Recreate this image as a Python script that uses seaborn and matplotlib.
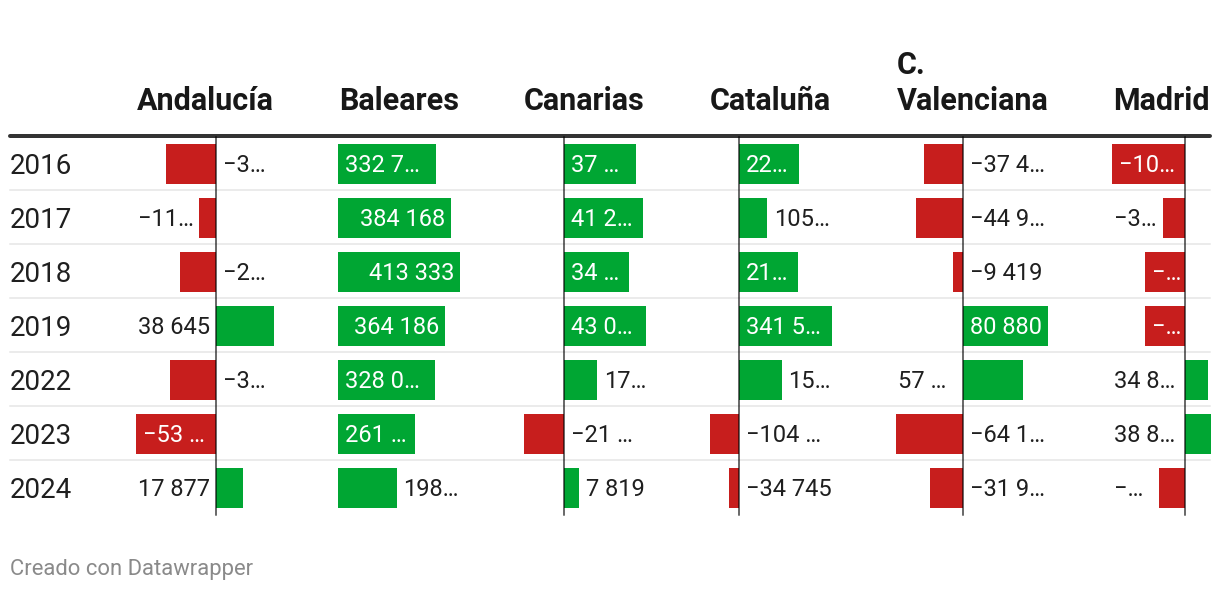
import textwrap
import numpy as np
import pandas as pd
import matplotlib
matplotlib.use("Agg")
import matplotlib.pyplot as plt
from matplotlib.lines import Line2D
import seaborn as sns

# ---------------- data ----------------
years = ["2016", "2017", "2018", "2019", "2022", "2023", "2024"]
regions = ["Andalucía", "Baleares", "Canarias", "Cataluña", "C. Valenciana", "Madrid"]

andalucia = [-33300, -11200, -23900, 38645, -30500, -53400, 17877]
baleares = [332700, 384168, 413333, 364186, 328050, 261300, 198400]
canarias = [37800, 41250, 34200, 43050, 17100, -21200, 7819]
cataluna = [220500, 105500, 218000, 341500, 157000, -104500, -34745]
valenciana = [-37450, -44950, -9419, 80880, 57500, -64150, -31950]
madrid = [-109000, -31800, -58800, -59200, 34850, 38850, -37900]

labels_andalucia = ["−3…", "−11…", "−2…", "38 645", "−3…", "−53 …", "17 877"]
labels_baleares = ["332 7…", "384 168", "413 333", "364 186", "328 0…", "261 …", "198…"]
labels_canarias = ["37 …", "41 2…", "34 …", "43 0…", "17…", "−21 …", "7 819"]
labels_cataluna = ["22…", "105…", "21…", "341 5…", "15…", "−104 …", "−34 745"]
labels_valenciana = ["−37 4…", "−44 9…", "−9 419", "80 880", "57 …", "−64 1…", "−31 9…"]
labels_madrid = ["−10…", "−3…", "−…", "−…", "34 8…", "38 8…", "−…"]

footer = "Creado con Datawrapper"

values = [andalucia, baleares, canarias, cataluna, valenciana, madrid]
labels = [labels_andalucia, labels_baleares, labels_canarias, labels_cataluna,
          labels_valenciana, labels_madrid]

# ---------------- layout / style ----------------
W, H = 1220, 590
RED, GREEN = "#c71e1d", "#00a633"
DARK = "#1f1f1f"
bar_px = [(136, 274), (338, 460), (524, 646), (710, 832), (896, 1048), (1112, 1210.6)]
col_x = [137, 339, 524, 710, 897, 1113]
placement = [
    ["opp", "end", "opp", "opp", "opp", "in", "opp"],
    ["in", "in", "in", "in", "in", "in", "end"],
    ["in", "in", "in", "in", "end", "opp", "end"],
    ["in", "end", "in", "in", "end", "opp", "opp"],
    ["opp", "opp", "opp", "in", "opp", "opp", "opp"],
    ["in", "end", "in", "in", "opp", "opp", "end"],
]
BODY_TOP, ROW_H = 137, 54
BODY_BOT = BODY_TOP + ROW_H * len(years)
FS_YEAR, FS_VAL, FS_HEAD, FS_FOOT = 20, 17, 22, 15.8

sns.set_style("white")
plt.rcParams["font.family"] = ["Roboto", "DejaVu Sans"]

fig = plt.figure(figsize=(W / 100, H / 100), dpi=100)
fig.patch.set_facecolor("white")


def fx(x):
    return x / W


def fy(y):
    return 1 - y / H


# header rule and row separators
fig.add_artist(Line2D([fx(10), fx(1210)], [fy(136), fy(136)], color="#333333",
                      lw=4 * 0.72, zorder=-1))
for k in range(1, len(years)):
    y = BODY_TOP + k * ROW_H - 1
    fig.add_artist(Line2D([fx(10), fx(1210)], [fy(y), fy(y)], color="#ebebeb",
                          lw=2 * 0.72, zorder=-1))

# year labels
for i, yr in enumerate(years):
    yc = BODY_TOP + ROW_H * (i + 0.5)
    cap = 0.711 * FS_YEAR / 0.72
    fig.text(fx(10), fy(yc + cap / 2), yr, fontsize=FS_YEAR, color=DARK,
             ha="left", va="baseline")

# headers
for name, x in zip(regions, col_x):
    lines = textwrap.wrap(name, 12)
    for j, line in enumerate(reversed(lines)):
        fig.text(fx(x), fy(110 - j * 36), line, fontsize=FS_HEAD, fontweight="bold",
                 color="#181818", ha="left", va="baseline")

# footer
fig.text(fx(10), fy(575), footer, fontsize=FS_FOOT, color="#8a8a8a", ha="left",
         va="baseline")

cap_off = -0.711 * FS_VAL / 2  # points, to centre digits vertically

for c, (name, vals, labs, (l, r), cx, plc) in enumerate(
        zip(regions, values, labels, bar_px, col_x, placement)):
    ax = fig.add_axes([fx(l), fy(BODY_BOT), (r - l) / W, (BODY_BOT - BODY_TOP) / H])
    df = pd.DataFrame({"year": years, "value": vals})
    df["sign"] = np.where(df["value"] >= 0, "pos", "neg")
    sns.barplot(data=df, x="value", y="year", hue="sign", order=years,
                palette={"pos": GREEN, "neg": RED}, orient="h", dodge=False,
                width=40 / 54, legend=False, saturation=1, linewidth=0, ax=ax)
    lo, hi = min(0, min(vals)), max(0, max(vals))
    ax.set_xlim(lo, hi)
    ax.set_ylim(len(years) - 0.5, -0.5)
    ax.axis("off")
    if lo < 0:
        ax.axvline(0, color="black", alpha=0.58, lw=2 * 0.72, zorder=5, clip_on=False)

    for i, (v, lab, mode) in enumerate(zip(vals, labs, plc)):
        trunc = "…" in lab
        kw = dict(fontsize=FS_VAL, va="baseline", annotation_clip=False)
        if mode == "in":
            if trunc:
                left = min(0, v)
                ax.annotate(lab, xy=(left, i), xytext=(7 * 0.72, cap_off),
                            textcoords="offset points", ha="left", color="white", **kw)
            else:
                right = max(0, v)
                ax.annotate(lab, xy=(right, i), xytext=(-6 * 0.72, cap_off),
                            textcoords="offset points", ha="right", color="white", **kw)
            continue
        # outside labels
        if mode == "end":
            anchor = v
            goes_right = v >= 0
        else:  # opposite side of the zero line
            anchor = 0
            goes_right = v < 0
        if goes_right:
            ax.annotate(lab, xy=(anchor, i), xytext=(7 * 0.72, cap_off),
                        textcoords="offset points", ha="left", color=DARK, **kw)
        elif trunc:
            ax.annotate(lab, xy=(cx + 1, i), xycoords=("figure pixels", "data"),
                        xytext=(0, cap_off), textcoords="offset points", ha="left",
                        color=DARK, **kw)
        else:
            ax.annotate(lab, xy=(anchor, i), xytext=(-6 * 0.72, cap_off),
                        textcoords="offset points", ha="right", color=DARK, **kw)

fig.savefig("out.png", dpi=100, facecolor="white")
